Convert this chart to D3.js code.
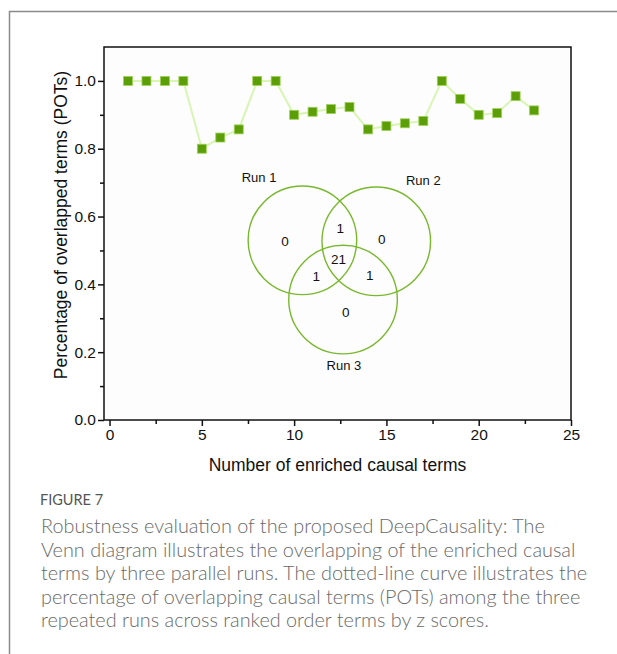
<!DOCTYPE html>
<html><head><meta charset="utf-8">
<script src="https://cdn.jsdelivr.net/npm/d3@7"></script>
<style>
html,body{margin:0;padding:0;background:#fff;}
svg{display:block;}
</style></head>
<body>
<svg id="c" width="617" height="654"></svg>
<script>
// ---- data ----
const termCounts = [1,2,3,4,5,6,7,8,9,10,11,12,13,14,15,16,17,18,19,20,21,22,23];
const potValues = [1.0,1.0,1.0,1.0,0.8,0.833,0.857,1.0,1.0,0.9,0.909,0.917,0.923,0.857,0.867,0.875,0.882,1.0,0.947,0.9,0.905,0.955,0.913];
const xTicks = [0,5,10,15,20,25];
const yTicks = [0.0,0.2,0.4,0.6,0.8,1.0];
const vennSets = ["Run 1","Run 2","Run 3"];
const vennRegions = [
  {label:"0", sets:["Run 1"]},
  {label:"0", sets:["Run 2"]},
  {label:"0", sets:["Run 3"]},
  {label:"1", sets:["Run 1","Run 2"]},
  {label:"1", sets:["Run 1","Run 3"]},
  {label:"1", sets:["Run 2","Run 3"]},
  {label:"21", sets:["Run 1","Run 2","Run 3"]}
];
const xTitle = "Number of enriched causal terms";
const yTitle = "Percentage of overlapped terms (POTs)";
const figLabel = "FIGURE 7";
const captionLines = [
  "Robustness evaluation of the proposed DeepCausality: The",
  "Venn diagram illustrates the overlapping of the enriched causal",
  "terms by three parallel runs. The dotted-line curve illustrates the",
  "percentage of overlapping causal terms (POTs) among the three",
  "repeated runs across ranked order terms by z scores."
];

// ---- layout ----
const svg = d3.select("#c");
const F = "'Liberation Sans', Arial, sans-serif";
const L = 104, R = 571, T = 47, B = 420;
const x = d3.scaleLinear().domain([-0.3, 25]).range([L, R]);
const y = d3.scaleLinear().domain([0, 1.1]).range([B, T]);

// outer frame
svg.append("path").attr("d","M9.5,654 L9.5,11.5 L617,11.5")
  .attr("fill","none").attr("stroke","#8a8a8a").attr("stroke-width",1.5);

// plot box
svg.append("rect").attr("x",L).attr("y",T).attr("width",R-L).attr("height",B-T)
  .attr("fill","#fdfdfd").attr("stroke","#111").attr("stroke-width",1.5);

// axes
const xAxis = svg.append("g").attr("transform",`translate(0,${B})`)
  .call(d3.axisBottom(x).tickValues(xTicks).tickFormat(d3.format("d")).tickSize(6).tickPadding(3));
const xMinor = svg.append("g").attr("transform",`translate(0,${B})`)
  .call(d3.axisBottom(x).tickValues(d3.range(2.5,25,5)).tickFormat("").tickSize(4));
const yAxis = svg.append("g").attr("transform",`translate(${L},0)`)
  .call(d3.axisLeft(y).tickValues(yTicks).tickFormat(d3.format(".1f")).tickSize(6).tickPadding(2));
const yMinor = svg.append("g").attr("transform",`translate(${L},0)`)
  .call(d3.axisLeft(y).tickValues([0.1,0.3,0.5,0.7,0.9]).tickFormat("").tickSize(4));
[xAxis,xMinor,yAxis,yMinor].forEach(g=>{
  g.select(".domain").remove();
  g.selectAll("line").attr("stroke","#111").attr("stroke-width",1.5);
  g.selectAll("text").attr("font-family",F).attr("font-size",15.5).attr("fill","#111");
});

// axis titles
svg.append("text").attr("x",(L+R)/2).attr("y",471).attr("text-anchor","middle")
  .attr("font-family",F).attr("font-size",17.5).attr("fill","#111").text(xTitle);
svg.append("text").attr("transform",`translate(67,225) rotate(-90)`).attr("text-anchor","middle")
  .attr("font-family",F).attr("font-size",17.5).attr("fill","#111").text(yTitle);

// line + markers
const pts = termCounts.map((d,i)=>[d,potValues[i]]);
svg.append("path").datum(pts)
  .attr("d", d3.line().x(d=>x(d[0])).y(d=>y(d[1])))
  .attr("fill","none").attr("stroke","#d8f5b4").attr("stroke-width",2);
const ms = 9;
svg.append("g").selectAll("rect").data(pts).join("rect")
  .attr("x",d=>x(d[0])-ms/2).attr("y",d=>y(d[1])-ms/2)
  .attr("width",ms).attr("height",ms)
  .attr("fill","#5c9e07").attr("stroke","#9fd35a").attr("stroke-width",0.8);

// Venn diagram (circle positions in data units of the plot)
const vennCircles = {"Run 1":{cx:10.45, cy:0.53}, "Run 2":{cx:14.45, cy:0.527}, "Run 3":{cx:12.65, cy:0.355}};
const rPx = 54.3;
svg.append("g").selectAll("circle").data(vennSets).join("circle")
  .attr("cx",d=>x(vennCircles[d].cx)).attr("cy",d=>y(vennCircles[d].cy)).attr("r",rPx)
  .attr("fill","none").attr("stroke","#79b82e").attr("stroke-width",1.4);
const setLabelPos = {"Run 1":[8.1,0.714], "Run 2":[17.0,0.707], "Run 3":[12.7,0.160]};
svg.append("g").selectAll("text").data(vennSets).join("text")
  .attr("x",d=>x(setLabelPos[d][0])).attr("y",d=>y(setLabelPos[d][1]))
  .attr("dy","0.35em")
  .attr("text-anchor","middle").attr("font-family",F).attr("font-size",13).attr("fill","#111").text(d=>d);
const regionPos = {
  "Run 1":[9.5,0.528], "Run 2":[14.75,0.533], "Run 3":[12.8,0.319],
  "Run 1&Run 2":[12.5,0.566], "Run 1&Run 3":[11.2,0.425], "Run 2&Run 3":[14.1,0.428],
  "Run 1&Run 2&Run 3":[12.4,0.474]
};
svg.append("g").selectAll("text").data(vennRegions).join("text")
  .attr("x",d=>x(regionPos[d.sets.join("&")][0])).attr("y",d=>y(regionPos[d.sets.join("&")][1]))
  .attr("dy","0.35em")
  .attr("text-anchor","middle").attr("font-family",F).attr("font-size",13.5).attr("fill","#111").text(d=>d.label);

// caption
const CF = "Lato, 'Open Sans', sans-serif";
svg.append("text").attr("x",40).attr("y",505).attr("font-family",CF).attr("font-size",14.5)
  .attr("font-weight",400).attr("fill","#555").text(figLabel);
const cap = svg.append("g").selectAll("text").data(captionLines).join("text")
  .attr("x",41).attr("y",(d,i)=>533+i*23.5)
  .attr("font-family",CF).attr("font-size",19).attr("font-weight",300).attr("fill","#6a6a6a").text(d=>d);
// fit font size so the first line spans like the reference
const w0 = cap.node().getComputedTextLength();
if (w0 > 0) cap.attr("font-size", 19 * 504 / w0);
</script>
</body></html>
